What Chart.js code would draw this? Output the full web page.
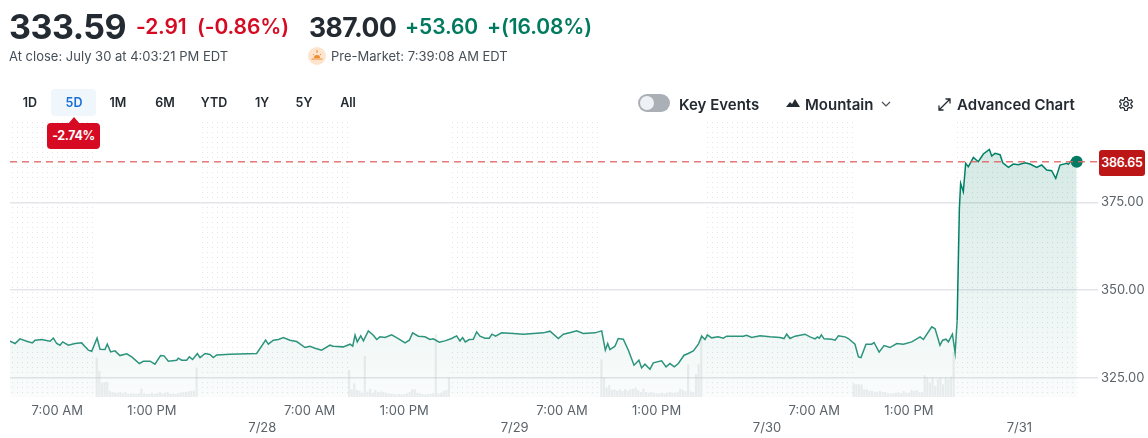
<!DOCTYPE html>
<html>
<head>
<meta charset="utf-8">
<title>Stock chart</title>
<script src="https://cdn.jsdelivr.net/npm/chart.js@4/dist/chart.umd.min.js"></script>
<style>
  html, body { margin: 0; padding: 0; background: #fff; }
  body { width: 1148px; height: 438px; overflow: hidden; position: relative; font-family: Inter, "Noto Sans", sans-serif; color: #232a31; }
  canvas { position: absolute; left: 0; top: 0; }
  .t { position: absolute; white-space: nowrap; line-height: 1; }
  .big { font-weight: 700; letter-spacing: -0.5px; }
  .chg { font-size: 21px; font-weight: 600; top: 16px; letter-spacing: -0.1px; }
  .red { color: #d60a22; }
  .green { color: #007a5e; }
  .sub { font-size: 13px; color: #464e56; top: 50px; }
  .range { font-size: 12.5px; font-weight: 600; top: 97px; transform: translateX(-50%); color: #232a31; }
  .tool { font-size: 15px; font-weight: 600; top: 97px; }
</style>
</head>
<body>
<canvas id="priceChart" width="1148" height="438"></canvas>

<div class="t big" style="left:9px;top:10px;font-size:34px">333.59</div>
<div class="t chg red" style="left:136px">-2.91</div>
<div class="t chg red" style="left:197px">(-0.86%)</div>
<div class="t big" style="left:309px;top:14px;font-size:26.500px">387.00</div>
<div class="t chg green" style="left:405px">+53.60</div>
<div class="t chg green" style="left:487px">+(16.08%)</div>
<div class="t sub" style="left:9px">At close: July 30 at 4:03:21 PM EDT</div>
<div style="position:absolute;left:308px;top:47px;width:18px;height:18px;border-radius:50%;background:#fde4cf"></div>
<svg style="position:absolute;left:310px;top:49px" width="14" height="14" viewBox="0 0 14 14">
  <path d="M7 1v3M3 5l1.2 1.2M11 5L9.800 6.200" stroke="#f08a2c" stroke-width="1" fill="none"/>
  <path d="M4 9a3 3 0 0 1 6 0z" fill="#f08a2c"/>
  <path d="M1.500 10h11" stroke="#f08a2c" stroke-width="1"/>
</svg>
<div class="t sub" style="left:331px">Pre-Market: 7:39:08 AM EDT</div>

<div style="position:absolute;left:51px;top:89px;width:45px;height:27px;border-radius:4px;background:#eff6fc"></div>
<div id="ranges"></div>

<div style="position:absolute;left:638px;top:94px;width:32px;height:18px;border-radius:9px;background:#aab0b6"></div>
<div style="position:absolute;left:640px;top:96px;width:14px;height:14px;border-radius:50%;background:#eef2f6"></div>
<div class="t tool" style="left:679px">Key Events</div>
<svg style="position:absolute;left:786px;top:98px" width="14" height="10" viewBox="0 0 14 10"><path d="M0 9l4-5 2 2 3-5 5 8z" fill="#232a31"/></svg>
<div class="t tool" style="left:805px">Mountain</div>
<svg style="position:absolute;left:881px;top:100px" width="10" height="8" viewBox="0 0 10 8"><path d="M1 2l4 4 4-4" stroke="#464e56" stroke-width="1.200" fill="none"/></svg>
<svg style="position:absolute;left:938px;top:98px" width="13" height="13" viewBox="0 0 13 13"><path d="M1 12L12 1M7.500 1H12v4.500M1 7.500V12h4.500" stroke="#232a31" stroke-width="1.300" fill="none"/></svg>
<div class="t tool" style="left:957px">Advanced Chart</div>
<svg style="position:absolute;left:1118px;top:96px" width="16" height="16" viewBox="0 0 16 16">
  <circle cx="8" cy="8" r="2.300" stroke="#232a31" stroke-width="1.300" fill="none"/>
  <path d="M6.800 1.500h2.400l.4 2 1.700 1 1.900-.7 1.200 2.100-1.500 1.300v1.600l1.500 1.300-1.200 2.100-1.900-.7-1.700 1-.4 2H6.800l-.4-2-1.700-1-1.900.7-1.200-2.100 1.500-1.300V7.200L1.600 5.900l1.200-2.100 1.900.7 1.700-1z" stroke="#232a31" stroke-width="1.200" fill="none"/>
</svg>

<svg style="position:absolute;left:68px;top:117px" width="12" height="7" viewBox="0 0 12 7"><path d="M6 0l6 7H0z" fill="#d60a22"/></svg>
<div class="t" style="left:47px;top:123px;width:53px;height:26px;line-height:26px;border-radius:4px;background:#d60a22;color:#fff;font-size:12.5px;font-weight:700;text-align:center;letter-spacing:-0.4px">-2.74%</div>
<div class="t" style="left:1099px;top:150px;width:46px;height:26px;line-height:26px;border-radius:3px;background:#bd1616;color:#fff;font-size:12.5px;font-weight:600;text-align:center;letter-spacing:-0.3px">386.65</div>

<script>
// 范围按钮
const rangeLabels = ['1D', '5D', '1M', '6M', 'YTD', '1Y', '5Y', 'All'];
const rangeCenters = [30, 74, 118, 165, 214, 262, 304, 348];

// hours on the session axis, 0 = 4:00 AM on the first day, 16 hours per day
const priceHours = [
    0, 0.32, 0.63, 1.06, 1.42, 1.59, 2.01, 2.54, 2.75, 2.96, 3.17, 3.34, 3.7, 4.12, 4.54, 4.97, 5.18, 5.52, 5.71, 6.02,
    6.17, 6.38, 6.66, 6.97, 7.4, 7.72, 8.2, 8.45, 8.88, 9.19, 9.55, 9.77, 10.04, 10.57, 10.67, 10.89, 11.2, 11.37, 11.58, 11.88,
    12.05, 12.37, 12.68, 12.89, 13.11, 13.95, 15.64, 16.21, 16.38, 16.7, 17.02, 17.33, 17.75, 18.18, 18.71, 19.02, 19.34, 19.76, 20.29, 20.5,
    21.14, 21.56, 21.73, 21.88, 22.02, 22.24, 22.41, 22.72, 23.04, 23.25, 23.46, 23.78, 24.2, 24.62, 25.05, 25.32, 25.53, 25.89, 26.31, 26.63,
    26.84, 27.22, 27.58, 28, 28.32, 28.53, 28.7, 28.87, 29.12, 29.38, 29.59, 29.8, 30.12, 30.39, 30.56, 30.79, 31.17, 31.91, 32.55, 33.82,
    34.24, 34.77, 35.09, 35.61, 35.93, 36.35, 37.09, 37.52, 37.75, 37.9, 38.04, 38.36, 38.57, 38.89, 39.21, 39.57, 39.88, 40.05, 40.26, 40.58,
    40.79, 41.32, 41.6, 41.85, 42.12, 42.38, 42.74, 43.01, 43.33, 43.65, 43.86, 44.07, 44.22, 44.49, 44.91, 45.23, 45.44, 46.5, 46.71, 47.03,
    47.56, 48.19, 48.83, 49.08, 49.25, 49.46, 49.78, 50.41, 50.73, 51.05, 51.2, 51.32, 51.45, 51.62, 52.1, 52.32, 52.53, 52.95, 53.16, 53.58,
    53.8, 53.96, 54.28, 54.64, 54.79, 55.11, 55.42, 55.8, 56.23, 56.65, 57.18, 57.71, 57.92, 58.45, 58.66, 58.97, 59.14, 59.35, 59.5, 59.76,
    59.93, 60.06, 60.2, 60.28, 60.45, 60.6, 60.77, 61.09, 61.4, 61.72, 62.1, 62.25, 62.46, 62.78, 62.95, 63.31, 63.62, 63.94, 64.36, 64.68,
    65.1, 65.42, 65.74, 66.05, 66.31, 66.58, 67.01, 67.11, 67.32, 67.64
];
const priceValues = [
    335.43, 334.76, 336.1, 335.43, 334.95, 335.72, 335.91, 335.43, 336.29, 334.76, 334.29, 335.24, 334.29, 334.76, 334.95, 332.86, 332.57, 336.29, 333.14, 333.05,
    334.57, 332.38, 332.67, 331.33, 331.81, 330.95, 329.05, 329.71, 329.71, 328.86, 331.33, 331.24, 329.71, 330, 330.57, 330, 330, 330.95, 330.19, 331.91,
    330.76, 331.91, 331.62, 330.76, 331.52, 331.71, 331.91, 335.72, 334.57, 335.72, 335.91, 336.48, 335.72, 335.33, 333.62, 334, 333.43, 332.86, 334.29, 334,
    333.81, 334.57, 334, 337.14, 335.24, 336.95, 335.52, 338.38, 337.14, 335.9, 336.67, 336.48, 337.24, 336.19, 334.95, 335.71, 337.81, 336.86, 336.67, 335.91,
    336.1, 335.14, 335.52, 336.19, 336.95, 335.52, 336.48, 335.24, 335.9, 336, 338.1, 336.86, 336.29, 336.29, 337.43, 336.86, 337.81, 337.62, 337.43, 337.81,
    338.29, 336.19, 337.43, 338, 338.38, 337.62, 337.81, 338.38, 332.86, 334.76, 333.05, 334, 336.19, 336, 332.86, 328.57, 330, 327.81, 328.86, 327.43,
    329.24, 329.81, 328.1, 329.05, 328.1, 329.05, 331.43, 331.91, 332.67, 334.57, 336.86, 335.91, 337.24, 336.38, 336.67, 336.29, 336.86, 336.86, 337.14, 336.48,
    337, 336.67, 336.48, 336.19, 337.43, 336.19, 336.86, 337.43, 336.67, 336.1, 336.67, 336.29, 337.24, 336.1, 336, 335.71, 336.95, 336.67, 336.19, 334.57,
    330.95, 330.76, 334.57, 334.57, 335.05, 332.29, 334.19, 333.62, 334.76, 334.57, 335.24, 336.67, 335.91, 339.52, 338.95, 334.29, 335.71, 336, 335.24, 337.43,
    332.1, 341.43, 373.33, 380.48, 378.1, 386.19, 385.24, 387.91, 386.67, 388.86, 390.19, 388.29, 389.05, 388.67, 386.38, 385.05, 386, 385.81, 386.38, 386,
    385.05, 385.72, 384.29, 384.1, 381.91, 385.72, 386.19, 385.91, 387.14, 386.67
];

// volume per 10 minute bar, in thousands, one list per regular session
const sessionOpens = [5.5, 21.5, 37.5, 53.5];
const volumeDay1 = [117, 77, 42, 44, 44, 17, 14, 12, 12, 14, 10, 14, 8, 10, 10, 8, 10, 24, 10, 8, 8, 12, 8, 10, 14, 10, 12, 14, 8, 10, 8, 10, 12, 14, 14, 16, 18, 18, 87];
const volumeDay2 = [80, 22, 40, 20, 18, 12, 122, 15, 24, 12, 20, 14, 16, 14, 12, 10, 8, 8, 6, 8, 6, 8, 10, 14, 22, 22, 12, 10, 8, 6, 8, 8, 10, 187, 10, 12, 18, 20, 57];
const volumeDay3 = [112, 57, 27, 35, 20, 22, 18, 22, 17, 22, 18, 22, 24, 27, 20, 14, 24, 14, 12, 14, 12, 10, 10, 12, 10, 12, 14, 12, 12, 14, 24, 20, 16, 97, 16, 14, 67, 97, 190];
const volumeDay4 = [40, 37, 37, 37, 22, 22, 18, 17, 15, 14, 17, 14, 14, 10, 10, 10, 12, 14, 10, 17, 12, 12, 20, 17, 20, 14, 14, 64, 57, 42, 57, 32, 52, 57, 37, 57, 52, 60, 134];

const lastPrice = 386.65;
const priceTicks = [325, 350, 375];
const timeTicks = [3, 9, 16, 19, 25, 32, 35, 41, 48, 51, 57, 64];
const timeLabels = ['7:00 AM', '1:00 PM', ['', '7/28'], '7:00 AM', '1:00 PM', ['', '7/29'], '7:00 AM', '1:00 PM', ['', '7/30'], '7:00 AM', '1:00 PM', ['', '7/31']];
// 盘前盘后时段
const extendedBands = [[0, 5.5], [12, 21.5], [28, 37.5], [44, 53.5], [60, 67.7]];

const axisMaxHour = 68.99;
const textGrey = '#5b636a';

rangeLabels.forEach((label, i) => {
    const el = document.createElement('div');
    el.className = 't range';
    el.style.left = rangeCenters[i] + 'px';
    el.textContent = label;
    if (label === '5D') el.style.color = '#1a6fd8';
    document.getElementById('ranges').appendChild(el);
});

const pricePoints = priceHours.map((h, i) => ({ x: h, y: priceValues[i] }));
const volumePoints = [];
[volumeDay1, volumeDay2, volumeDay3, volumeDay4].forEach((day, d) => {
    day.forEach((v, i) => volumePoints.push({ x: sessionOpens[d] + i / 6, y: v }));
});

// 虚线背景
const dotBands = {
    id: 'dotBands',
    beforeDatasetsDraw(chart) {
        const { ctx, chartArea, scales } = chart;
        const tile = document.createElement('canvas');
        tile.width = 5;
        tile.height = 5;
        const t = tile.getContext('2d');
        t.fillStyle = '#e2e4e8';
        t.fillRect(2, 2, 1, 1);
        ctx.save();
        ctx.fillStyle = ctx.createPattern(tile, 'repeat');
        extendedBands.forEach(b => {
            const x1 = scales.x.getPixelForValue(b[0]);
            const x2 = scales.x.getPixelForValue(b[1]);
            ctx.fillRect(x1, chartArea.top, x2 - x1, chartArea.bottom - chartArea.top);
        });
        ctx.restore();
    }
};

new Chart(document.getElementById('priceChart'), {
    data: {
        datasets: [
            {
                type: 'line',
                data: [{ x: 0, y: lastPrice }, { x: axisMaxHour, y: lastPrice }],
                borderColor: 'rgba(226, 100, 100, 0.85)',
                borderWidth: 1.5,
                borderDash: [7, 5],
                pointRadius: 0,
                order: 1
            },
            {
                type: 'line',
                data: pricePoints,
                borderColor: 'rgb(0, 128, 102)',
                borderWidth: 1.5,
                tension: 0,
                segment: {
                    // 前几天的线颜色更浅
                    borderColor: ctx => ctx.p0.parsed.x < 60 ? 'rgb(44, 148, 124)' : 'rgb(0, 128, 102)'
                },
                fill: 'start',
                backgroundColor(ctx) {
                    const area = ctx.chart.chartArea;
                    if (!area) return 'rgba(0, 122, 96, 0.1)';
                    const g = ctx.chart.ctx.createLinearGradient(0, area.top, 0, area.bottom);
                    g.addColorStop(0, 'rgba(0, 122, 96, 0.18)');
                    g.addColorStop(1, 'rgba(0, 122, 96, 0.02)');
                    return g;
                },
                pointRadius: ctx => ctx.dataIndex === priceHours.length - 1 ? 6 : 0,
                pointBackgroundColor: '#007a62',
                pointBorderWidth: 0,
                order: 2
            },
            {
                type: 'bar',
                data: volumePoints,
                yAxisID: 'yVol',
                backgroundColor: 'rgba(205, 209, 214, 0.38)',
                barThickness: 1.5,
                order: 3
            }
        ]
    },
    options: {
        responsive: false,
        animation: false,
        events: [],
        layout: { padding: { top: 122, left: 10, right: 3, bottom: 0 } },
        plugins: { legend: { display: false }, tooltip: { enabled: false } },
        scales: {
            x: {
                type: 'linear',
                offset: false,
                min: 0,
                max: axisMaxHour,
                grid: { display: false, drawTicks: false },
                border: { display: false },
                afterBuildTicks(scale) {
                    scale.ticks = timeTicks.map(v => ({ value: v }));
                },
                afterFit(scale) { scale.height = 41; },
                ticks: {
                    autoSkip: false,
                    maxRotation: 0,
                    padding: 6,
                    color: textGrey,
                    font: { family: 'Inter', size: 13, lineHeight: 1.3 },
                    callback: (value, index) => timeLabels[index]
                }
            },
            y: {
                position: 'right',
                min: 319.5,
                max: 398,
                border: { display: false },
                grid: { color: '#e3e5e8', lineWidth: 1.5, drawTicks: false },
                afterBuildTicks(scale) {
                    scale.ticks = priceTicks.map(v => ({ value: v }));
                },
                afterFit(scale) { scale.width = 47; },
                ticks: {
                    padding: 3,
                    color: textGrey,
                    font: { family: 'Inter', size: 13 },
                    callback: value => value.toFixed(2)
                }
            },
            yVol: {
                display: false,
                min: 0,
                max: 825
            }
        }
    },
    plugins: [dotBands]
});
</script>
</body>
</html>
